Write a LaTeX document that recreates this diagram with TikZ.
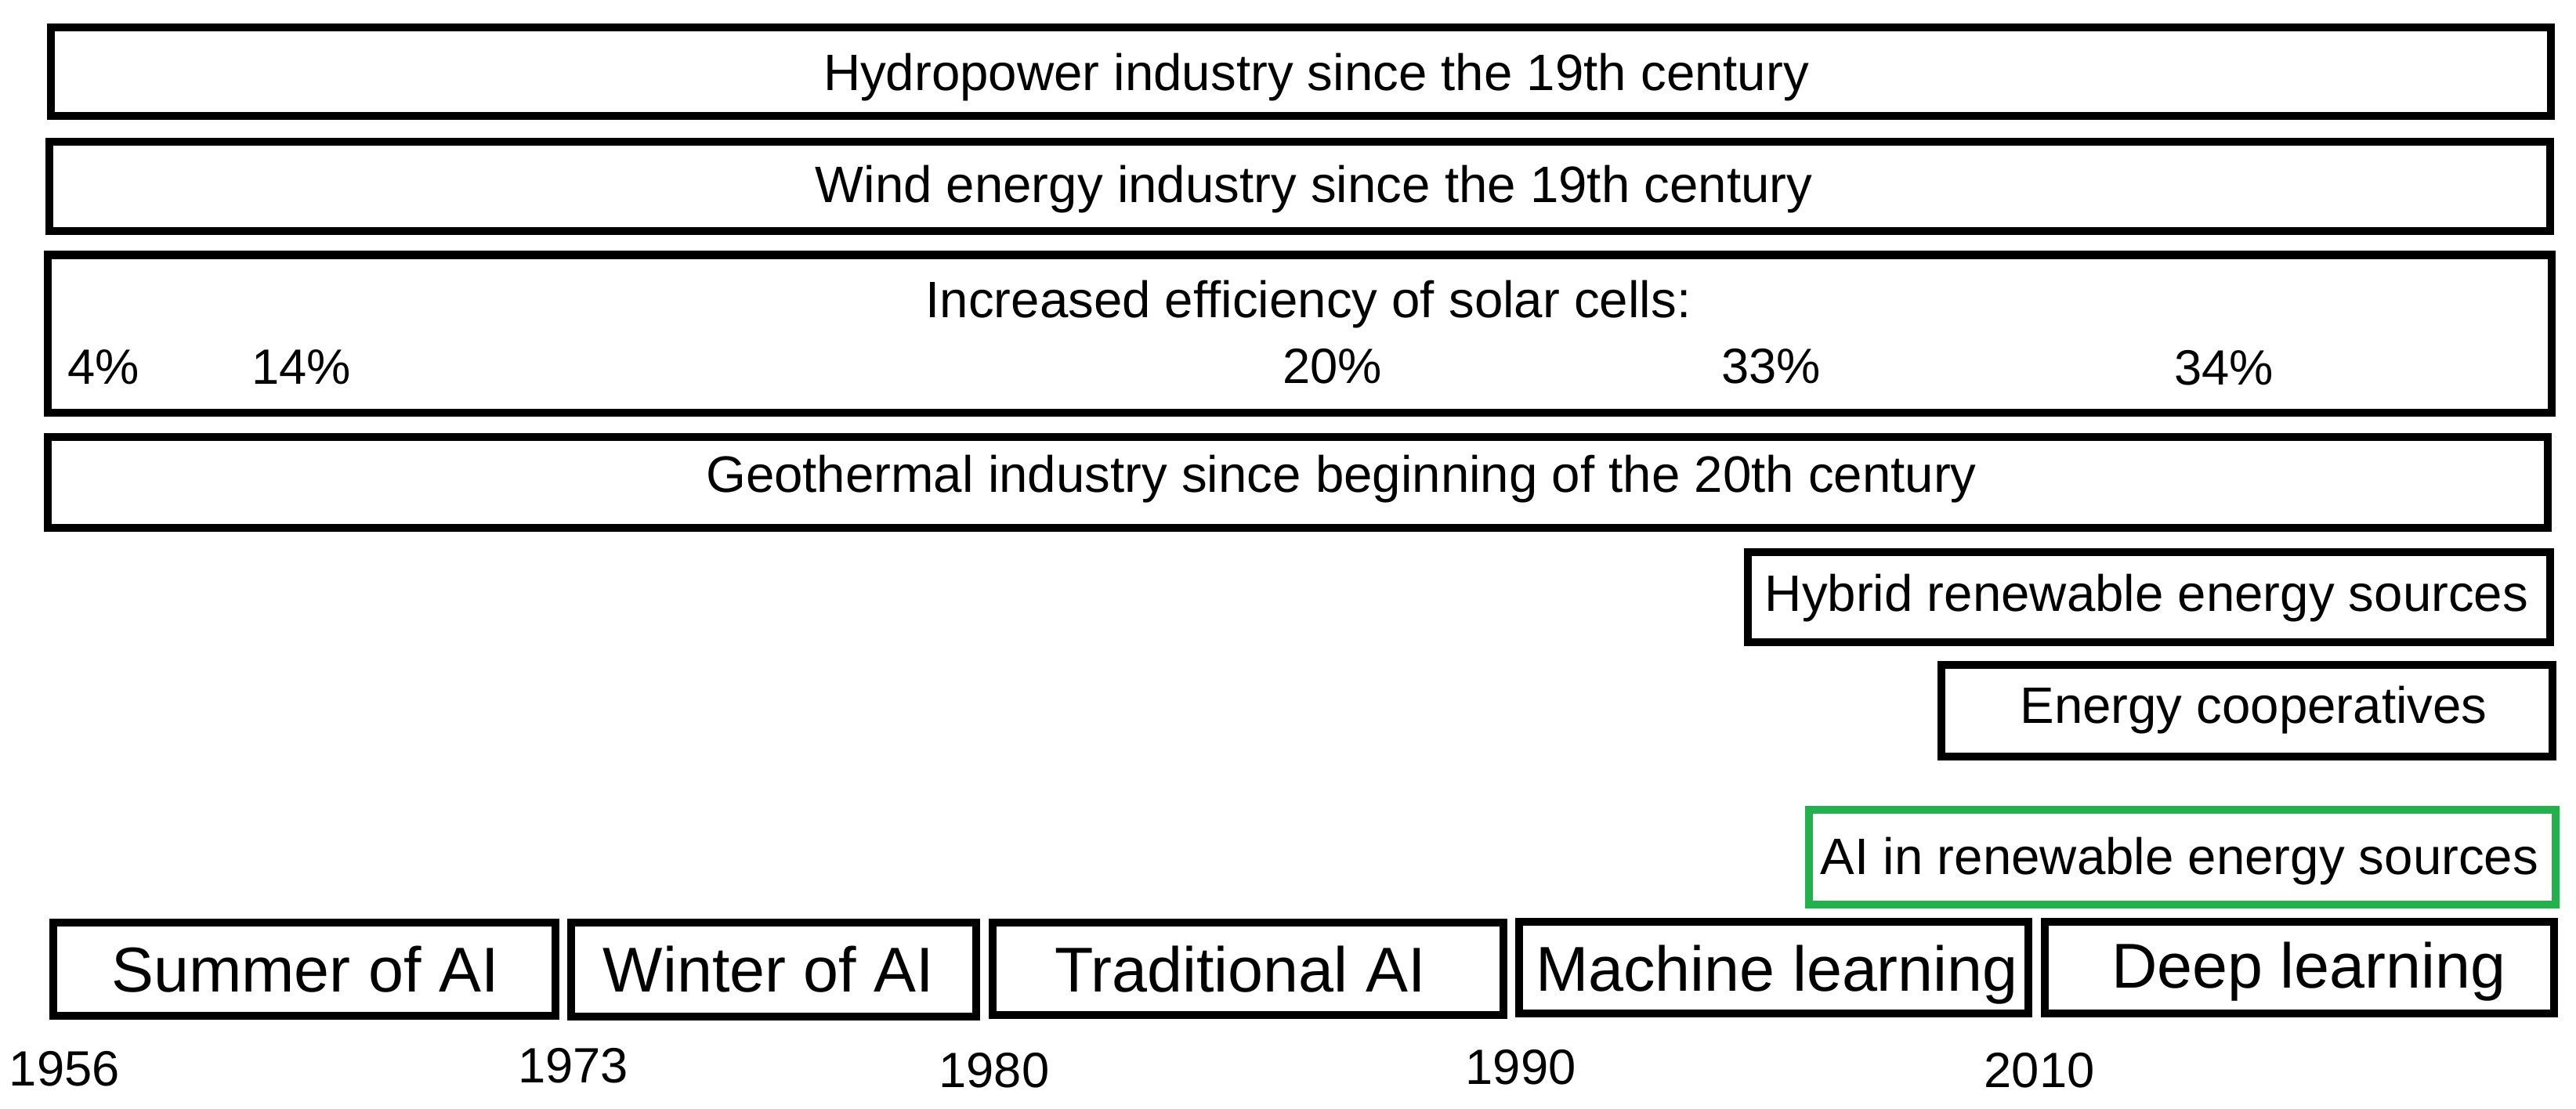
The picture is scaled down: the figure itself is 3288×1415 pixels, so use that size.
\documentclass[tikz,border=0pt]{standalone}
\usepackage{fontspec}
\setmainfont{Liberation Sans}
\definecolor{aigreen}{HTML}{22B14C}
\begin{document}
\begin{tikzpicture}[x=0.01cm,y=-0.01cm,
  box/.style={draw=black, line width=2.85pt, rectangle, inner sep=0pt, outer sep=0pt, fill=white},
  gbox/.style={box, draw=aigreen},
  lab/.style={font=\fontsize{18.6}{22}\selectfont, inner sep=0pt, anchor=base},
  big/.style={font=\fontsize{23}{27}\selectfont, inner sep=0pt, anchor=base},
  yr/.style={font=\fontsize{18}{21}\selectfont, inner sep=0pt, anchor=base}]
\useasboundingbox (0,0) rectangle (3288,1415);
\fill[white] (0,0) rectangle (3288,1415);
% energy boxes
\node[box, minimum width=31.90cm, minimum height=1.126cm] (hydro) at (1660.5,91.7) {};
\node[box, minimum width=31.90cm, minimum height=1.141cm] (wind) at (1658.7,238.4) {};
\node[box, minimum width=31.94cm, minimum height=2.015cm] (solar) at (1658.6,426.3) {};
\node[box, minimum width=31.894cm, minimum height=1.15cm] (geo) at (1656.3,616) {};
\node[box, minimum width=10.228cm, minimum height=1.15cm] (hybrid) at (2742.9,762.5) {};
\node[box, minimum width=7.802cm, minimum height=1.17cm] (coop) at (2867.9,907.5) {};
\node[gbox, minimum width=9.522cm, minimum height=1.21cm] (airen) at (2785.7,1094.5) {};
% AI era boxes
\node[box, minimum width=6.41cm, minimum height=1.187cm] (summer) at (388.5,1237.4) {};
\node[box, minimum width=5.17cm, minimum height=1.20cm] (winter) at (987.5,1238) {};
\node[box, minimum width=6.514cm, minimum height=1.18cm] (trad) at (1592.7,1237) {};
\node[box, minimum width=6.50cm, minimum height=1.173cm] (ml) at (2264,1235.4) {};
\node[box, minimum width=6.492cm, minimum height=1.173cm] (dl) at (2935,1235.4) {};
% labels
\node[lab] (hydrot) at (1680,115) {Hydropower industry since the 19th century};
\node[lab] (windt) at (1677,258) {Wind energy industry since the 19th century};
\node[lab] (solart) at (1670,405) {Increased efficiency of solar cells:};
\node[yr] (p4) at (132.4,490) {4\%};
\node[yr] (p14) at (384.6,490) {14\%};
\node[yr] (p20) at (1700.5,489) {20\%};
\node[yr] (p33) at (2260.4,489) {33\%};
\node[yr] (p34) at (2838.8,491) {34\%};
\node[lab] (geot) at (1712,628.3) {Geothermal industry since beginning of the 20th century};
\node[lab] (hybridt) at (2740,780.5) {Hybrid renewable energy sources};
\node[lab] (coopt) at (2876.5,923.6) {Energy cooperatives};
\node[lab] (airent) at (2782,1116.6) {AI in renewable energy sources};
\node[big] (summert) at (389.5,1266.7) {Summer of AI};
\node[big] (wintert) at (981,1266.7) {Winter of AI};
\node[big] (tradt) at (1583,1266.7) {Traditional AI};
\node[big] (mlt) at (2268,1265) {Machine learning};
\node[big] (dlt) at (2947,1261) {Deep learning};
% years
\node[yr] (y1956) at (82.4,1386.7) {1956};
\node[yr] (y1973) at (731.5,1382.3) {1973};
\node[yr] (y1980) at (1269,1388) {1980};
\node[yr] (y1990) at (1941,1384) {1990};
\node[yr] (y2010) at (2603,1388) {2010};
\end{tikzpicture}
\end{document}
